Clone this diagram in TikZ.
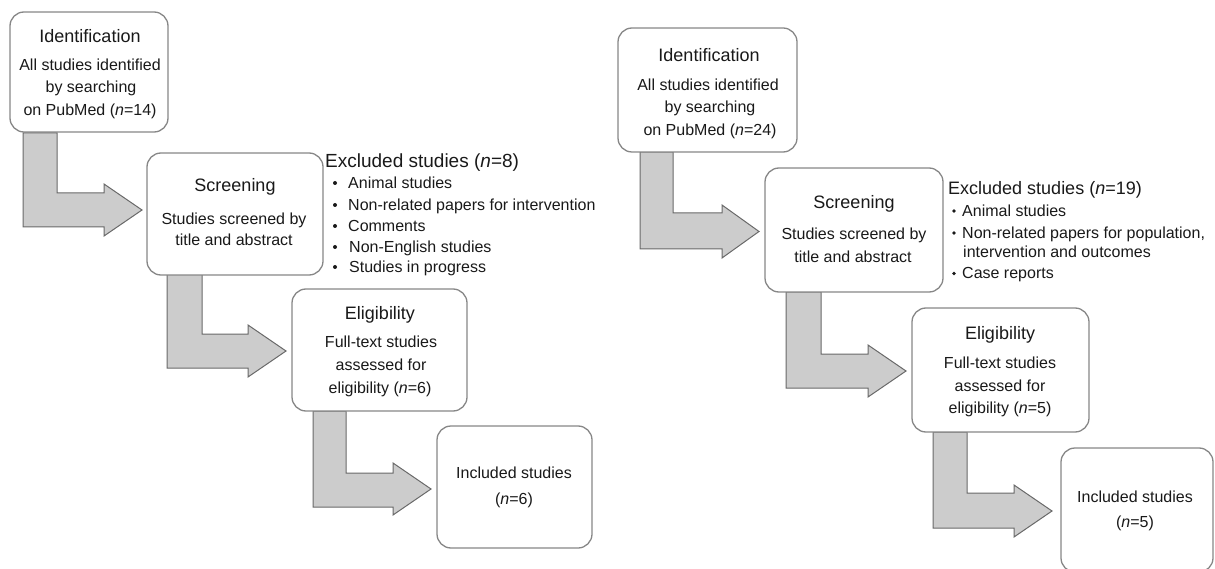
\documentclass[tikz,border=0pt]{standalone}
\usepackage{fontspec}
\setmainfont{Liberation Sans}
\definecolor{boxline}{RGB}{135,135,135}
\definecolor{arrfill}{RGB}{204,204,204}
\definecolor{arrline}{RGB}{105,105,105}
\definecolor{ink}{RGB}{25,25,25}
\tikzset{
  box/.style={draw=boxline, line width=1.3pt, rounded corners=14pt, fill=white, inner sep=0pt},
  ttl/.style={anchor=base, inner sep=0pt, text=ink, font=\fontsize{18}{22}\selectfont},
  txt/.style={anchor=base, inner sep=0pt, text=ink, font=\fontsize{16}{20}\selectfont},
  hd/.style={anchor=base west, inner sep=0pt, text=ink, font=\fontsize{19}{23}\selectfont},
  item/.style={anchor=base west, inner sep=0pt, text=ink, font=\fontsize{16}{20}\selectfont},
  blockarrow/.style={fill=arrfill, draw=arrline, line width=1pt, line join=miter},
  dot/.style={fill=ink, draw=none}
}
% #1 stem left, #2 stem right, #3 top, #4 bar top, #5 bar bottom, #6 head base x, #7 head top, #8 head bottom, #9 tip x
\newcommand{\Larrow}[9]{%
  \draw[blockarrow] (#1,#3) -- (#2,#3) -- (#2,#4) -- (#6,#4) -- (#6,#7) -- (#9,{(#7+#8)/2}) -- (#6,#8) -- (#6,#5) -- (#1,#5) -- cycle;}
\begin{document}
\begin{tikzpicture}[x=1pt,y=-1pt]
\useasboundingbox (0,0) rectangle (1215,569);
% ---------- left diagram: arrows ----------
\Larrow{23}{57}{133}{193}{227}{104}{184}{236}{142}
\Larrow{167}{202}{274}{334}{368}{248}{325}{377}{286}
\Larrow{313}{346}{411}{473}{507}{393}{463}{515}{431}
% ---------- right diagram: arrows ----------
\Larrow{640}{673}{152}{213}{249}{722}{205}{258}{759}
\Larrow{786}{821}{292}{354}{388}{868}{345}{397}{906}
\Larrow{933}{967}{432}{493}{528}{1014}{485}{537}{1052}
% ---------- left boxes ----------
\node[box, minimum width=158pt, minimum height=120pt] (idL) at (89,72) {};
\node[box, minimum width=176pt, minimum height=122pt] (scL) at (235,214) {};
\node[box, minimum width=175pt, minimum height=122pt] (elL) at (379.5,350) {};
\node[box, minimum width=155pt, minimum height=122pt] (inL) at (514.5,487) {};
% ---------- right boxes ----------
\node[box, minimum width=179pt, minimum height=124pt] (idR) at (707.5,90) {};
\node[box, minimum width=178pt, minimum height=124pt] (scR) at (854,230) {};
\node[box, minimum width=177pt, minimum height=124pt] (elR) at (1000.5,370) {};
\node[box, minimum width=152pt, minimum height=124pt] (inR) at (1137,510) {};
% ---------- left texts ----------
\node[ttl] (idLt) at (90,42.5) {Identification};
\node[txt] (idL1) at (90,70.5) {All studies identified};
\node[txt] (idL2) at (91,92.5) {by searching};
\node[txt] (idL3) at (90,115.5) {on PubMed (\textit{n}=14)};
\node[ttl] (scLt) at (235,191.5) {Screening};
\node[txt] (scL1) at (234,224.5) {Studies screened by};
\node[txt] (scL2) at (234,245.5) {title and abstract};
\node[ttl] (elLt) at (380,319.5) {Eligibility};
\node[txt] (elL1) at (381,347.5) {Full-text studies};
\node[txt] (elL2) at (381,370.5) {assessed for};
\node[txt] (elL3) at (380,393.5) {eligibility (\textit{n}=6)};
\node[txt] (inL1) at (514,478.5) {Included studies};
\node[txt] (inL2) at (514,504.5) {(\textit{n}=6)};
\node[hd] (exL) at (325,167.8) {Excluded studies (\textit{n}=8)};
\node[item] (exL1) at (348,188.5) {Animal studies};
\node[item] (exL2) at (348,210.5) {Non-related papers for intervention};
\node[item] (exL3) at (348,231.5) {Comments};
\node[item] (exL4) at (349,252.5) {Non-English studies};
\node[item] (exL5) at (349,272.5) {Studies in progress};
\foreach \yy in {183,205,226,247,267} \fill[dot] (335,\yy) circle (2pt);
% ---------- right texts ----------
\node[ttl] (idRt) at (709,61.5) {Identification};
\node[txt] (idR1) at (708,90.5) {All studies identified};
\node[txt] (idR2) at (710,112.5) {by searching};
\node[txt] (idR3) at (710,135.5) {on PubMed (\textit{n}=24)};
\node[ttl] (scRt) at (854,208.5) {Screening};
\node[txt] (scR1) at (854,239.5) {Studies screened by};
\node[txt] (scR2) at (853,262.5) {title and abstract};
\node[ttl] (elRt) at (1000,339.5) {Eligibility};
\node[txt] (elR1) at (1000,368.5) {Full-text studies};
\node[txt] (elR2) at (1000,391.5) {assessed for};
\node[txt] (elR3) at (1000,413.5) {eligibility (\textit{n}=5)};
\node[txt] (inR1) at (1135,502.5) {Included studies};
\node[txt] (inR2) at (1135,527.5) {(\textit{n}=5)};
\node[hd, font=\fontsize{18}{22}\selectfont] (exR) at (948,194.5) {Excluded studies (\textit{n}=19)};
\node[item] (exR1) at (962,216.5) {Animal studies};
\node[item] (exR2) at (962,238.5) {Non-related papers for population,};
\node[item] (exR3) at (963,257.5) {intervention and outcomes};
\node[item] (exR4) at (962,279) {Case reports};
\foreach \yy in {211,233,273.5} \fill[dot] (954,\yy) circle (1.8pt);
\end{tikzpicture}
\end{document}
